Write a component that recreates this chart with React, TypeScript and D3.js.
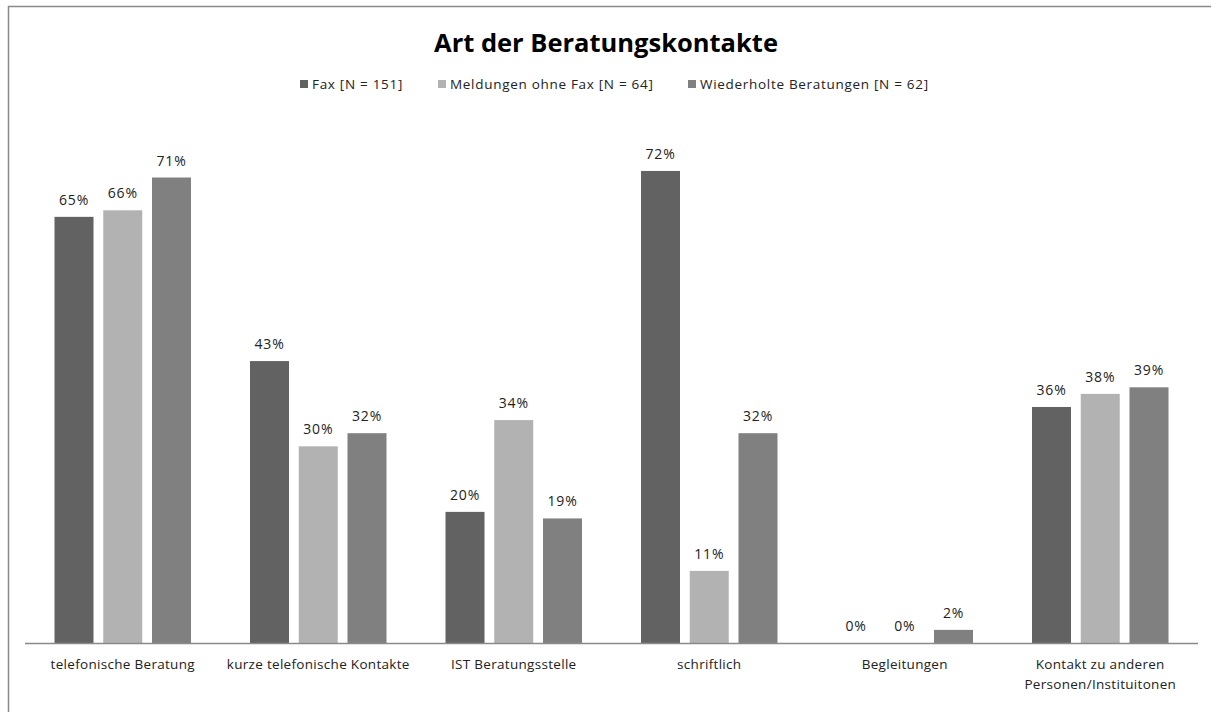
import React from "react";
import * as d3 from "d3";

const categories = [
  ["telefonische Beratung"],
  ["kurze telefonische Kontakte"],
  ["IST Beratungsstelle"],
  ["schriftlich"],
  ["Begleitungen"],
  ["Kontakt zu anderen", "Personen/Instituitonen"],
];
const seriesNames = ["Fax [N = 151]", "Meldungen ohne Fax [N = 64]", "Wiederholte Beratungen [N = 62]"];
const fax = [65, 43, 20, 72, 0, 36];
const meldungen = [66, 30, 34, 11, 0, 38];
const wiederholt = [71, 32, 19, 32, 2, 39];
const seriesValues = [fax, meldungen, wiederholt];
const colors = ["#626262", "#b2b2b2", "#808080"];

const W = 1211;
const H = 712;
const font = "'Open Sans', sans-serif";

export default function App() {
  const catIdx = categories.map((_, i) => String(i));
  const x0 = d3.scaleBand<string>().domain(catIdx).range([25, 1198]).padding(0);
  const x1 = d3
    .scaleBand<string>()
    .domain(seriesNames.map((_, i) => String(i)))
    .range([29.5, x0.bandwidth() - 29.5])
    .paddingInner(0.2);
  const y = d3.scaleLinear().domain([0, 80]).range([643, 118.5]);

  const legendX = [300, 438, 688];

  return (
    <svg
      width={W}
      height={H}
      style={{ position: "absolute", left: 0, top: 0, background: "#fff" }}
    >
      <rect x={0} y={0} width={W} height={H} fill="#fff" />
      <path d={`M8.5,${H} L8.5,6.5 L${W},6.5`} fill="none" stroke="#8a8a8a" strokeWidth={1.5} />
      <text
        x={606}
        y={52}
        textAnchor="middle"
        fontFamily={font}
        fontWeight="bold"
        fontSize={25.5}
        fill="#000"
      >
        Art der Beratungskontakte
      </text>
      {seriesNames.map((s, i) => (
        <g key={s}>
          <rect x={legendX[i]} y={80} width={8} height={8} fill={colors[i]} />
          <text
            x={legendX[i] + 12}
            y={89}
            fontFamily={font}
            fontSize={13.5}
            letterSpacing={0.7}
            fill="#222"
          >
            {s}
          </text>
        </g>
      ))}
      {categories.map((c, ci) =>
        seriesValues.map((vals, si) => {
          const bx = (x0(String(ci)) ?? 0) + (x1(String(si)) ?? 0);
          const bw = x1.bandwidth();
          const v = vals[ci];
          return (
            <g key={`${ci}-${si}`}>
              {v > 0 && (
                <rect x={bx} y={y(v)} width={bw} height={y(0) - y(v)} fill={colors[si]} />
              )}
              <text
                x={bx + bw / 2}
                y={y(v) - 12}
                textAnchor="middle"
                fontFamily={font}
                fontSize={14}
                letterSpacing={0.8}
                fill="#222"
              >
                {v}%
              </text>
            </g>
          );
        })
      )}
      <line x1={25} x2={1198} y1={643.5} y2={643.5} stroke="#8a8a8a" strokeWidth={1.5} />
      {categories.map((c, ci) => (
        <text
          key={ci}
          x={(x0(String(ci)) ?? 0) + x0.bandwidth() / 2}
          y={669}
          textAnchor="middle"
          fontFamily={font}
          fontSize={13.5}
          letterSpacing={0.3}
          fill="#222"
        >
          {c.map((line, li) => (
            <tspan key={li} x={(x0(String(ci)) ?? 0) + x0.bandwidth() / 2} dy={li === 0 ? 0 : 20}>
              {line}
            </tspan>
          ))}
        </text>
      ))}
    </svg>
  );
}
